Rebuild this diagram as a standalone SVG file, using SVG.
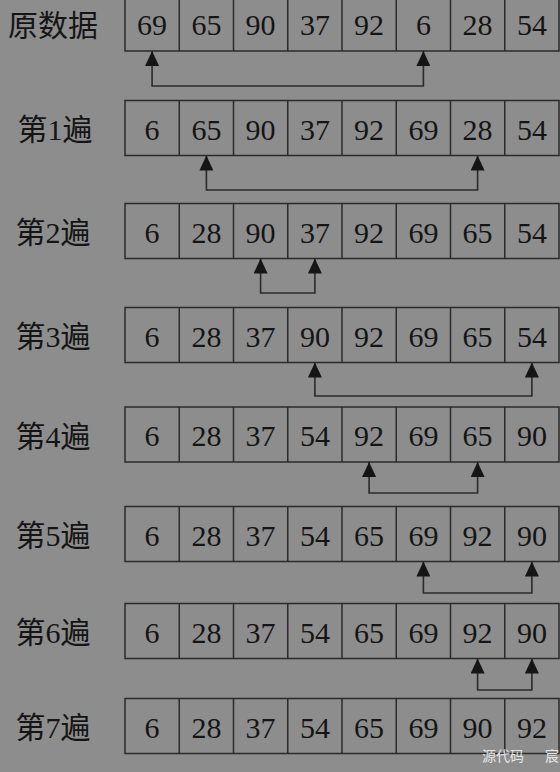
<svg xmlns="http://www.w3.org/2000/svg" width="560" height="772" viewBox="0 0 560 772">
<style>
.cell{fill:none;stroke:#2b2b2b;stroke-width:1.5}
.num{font-family:"Liberation Serif","Times New Roman",serif;font-size:30px;fill:#151515;text-anchor:middle}
.lbl{font-family:"Liberation Serif","Noto Sans CJK SC",serif;font-size:30px;fill:#151515;text-anchor:middle}
.conn{fill:none;stroke:#2b2b2b;stroke-width:1.6;marker-start:url(#ah);marker-end:url(#ah)}
.wm{font-family:"Noto Sans CJK SC","Liberation Sans",sans-serif;font-size:14px;fill:#e6e6e6}
</style>
<defs>
<marker id="ah" markerUnits="userSpaceOnUse" viewBox="0 0 15 14" refX="15" refY="7" markerWidth="15" markerHeight="14" orient="auto-start-reverse">
<path d="M0,0 L15,7 L0,14 Z" fill="#151515"/>
</marker>
<g id="grid">
<rect class="cell" x="125" y="0" width="434" height="55"/>
<path class="cell" d="M179.25,0V55M233.5,0V55M287.75,0V55M342,0V55M396.25,0V55M450.5,0V55M504.75,0V55"/>
</g>
</defs>
<rect width="560" height="772" fill="#8d8d8d"/>

<g id="row0">
<use href="#grid" y="-4"/>
<text class="lbl" x="53" y="36">原数据</text>
<text class="num" y="35"><tspan x="152.1">69</tspan><tspan x="206.4">65</tspan><tspan x="260.6">90</tspan><tspan x="314.9">37</tspan><tspan x="369.1">92</tspan><tspan x="423.4">6</tspan><tspan x="477.6">28</tspan><tspan x="531.9">54</tspan></text>
</g>
<g id="row1">
<use href="#grid" y="100.5"/>
<text class="lbl" x="55" y="140">第1遍</text>
<text class="num" y="139.5"><tspan x="152.1">6</tspan><tspan x="206.4">65</tspan><tspan x="260.6">90</tspan><tspan x="314.9">37</tspan><tspan x="369.1">92</tspan><tspan x="423.4">69</tspan><tspan x="477.6">28</tspan><tspan x="531.9">54</tspan></text>
</g>
<g id="row2">
<use href="#grid" y="203.5"/>
<text class="lbl" x="53" y="243">第2遍</text>
<text class="num" y="242.5"><tspan x="152.1">6</tspan><tspan x="206.4">28</tspan><tspan x="260.6">90</tspan><tspan x="314.9">37</tspan><tspan x="369.1">92</tspan><tspan x="423.4">69</tspan><tspan x="477.6">65</tspan><tspan x="531.9">54</tspan></text>
</g>
<g id="row3">
<use href="#grid" y="307.5"/>
<text class="lbl" x="53" y="347">第3遍</text>
<text class="num" y="346.5"><tspan x="152.1">6</tspan><tspan x="206.4">28</tspan><tspan x="260.6">37</tspan><tspan x="314.9">90</tspan><tspan x="369.1">92</tspan><tspan x="423.4">69</tspan><tspan x="477.6">65</tspan><tspan x="531.9">54</tspan></text>
</g>
<g id="row4">
<use href="#grid" y="407"/>
<text class="lbl" x="53" y="446.5">第4遍</text>
<text class="num" y="446"><tspan x="152.1">6</tspan><tspan x="206.4">28</tspan><tspan x="260.6">37</tspan><tspan x="314.9">54</tspan><tspan x="369.1">92</tspan><tspan x="423.4">69</tspan><tspan x="477.6">65</tspan><tspan x="531.9">90</tspan></text>
</g>
<g id="row5">
<use href="#grid" y="506.5"/>
<text class="lbl" x="53" y="546">第5遍</text>
<text class="num" y="545.5"><tspan x="152.1">6</tspan><tspan x="206.4">28</tspan><tspan x="260.6">37</tspan><tspan x="314.9">54</tspan><tspan x="369.1">65</tspan><tspan x="423.4">69</tspan><tspan x="477.6">92</tspan><tspan x="531.9">90</tspan></text>
</g>
<g id="row6">
<use href="#grid" y="603.5"/>
<text class="lbl" x="53" y="643">第6遍</text>
<text class="num" y="642.5"><tspan x="152.1">6</tspan><tspan x="206.4">28</tspan><tspan x="260.6">37</tspan><tspan x="314.9">54</tspan><tspan x="369.1">65</tspan><tspan x="423.4">69</tspan><tspan x="477.6">92</tspan><tspan x="531.9">90</tspan></text>
</g>
<g id="row7">
<use href="#grid" y="698.5"/>
<text class="lbl" x="53" y="738">第7遍</text>
<text class="num" y="737.5"><tspan x="152.1">6</tspan><tspan x="206.4">28</tspan><tspan x="260.6">37</tspan><tspan x="314.9">54</tspan><tspan x="369.1">65</tspan><tspan x="423.4">69</tspan><tspan x="477.6">90</tspan><tspan x="531.9">92</tspan></text>
</g>

<g id="connectors">
<path class="conn" d="M152.1,51 V86 H423.4 V51"/>
<path class="conn" d="M206.4,155.5 V190 H477.6 V155.5"/>
<path class="conn" d="M260.6,258.5 V293 H314.9 V258.5"/>
<path class="conn" d="M314.9,362.5 V396 H531.9 V362.5"/>
<path class="conn" d="M369.1,462 V493 H477.6 V462"/>
<path class="conn" d="M423.4,561.5 V593 H531.9 V561.5"/>
<path class="conn" d="M477.6,658.5 V690 H531.9 V658.5"/>
</g>

<text class="wm" x="482" y="761">源代码<tspan x="545">宸</tspan></text>
</svg>
